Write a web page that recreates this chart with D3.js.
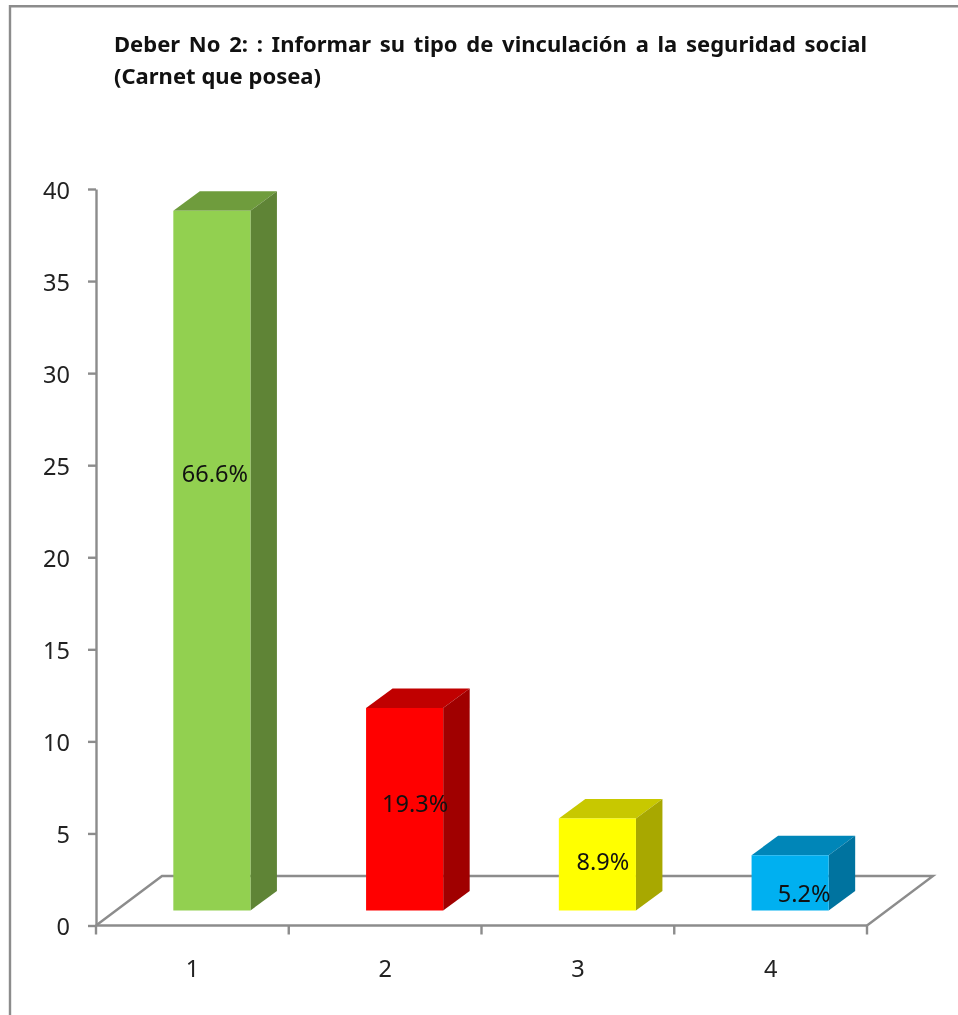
<!DOCTYPE html>
<html><head><meta charset="utf-8"><style>
html,body{margin:0;padding:0;background:#fff}
svg{display:block;filter:blur(.45px)}
text{font-family:"Noto Sans","Open Sans",sans-serif}
</style></head><body>
<svg id="c" width="958" height="1015"></svg>
<script src="https://cdn.jsdelivr.net/npm/d3@7/dist/d3.min.js"></script>
<script>
const categories = ["1","2","3","4"];
const values = [38,11,5,3];
const pctLabels = ["66.6%","19.3%","8.9%","5.2%"];
const yTicks = [0,5,10,15,20,25,30,35,40];
const frontColors = ["#92d050","#ff0000","#ffff00","#00b0f0"];
const topColors = ["#6f9c3d","#c00000","#c8c800","#0086b8"];
const sideColors = ["#5f8436","#a00000","#a8a800","#00739f"];
const titleLines = ["Deber No 2: : Informar su tipo de vinculación a la seguridad social","(Carnet que posea)"];
const labelDx = [3,10.5,5.5,14];
const labelDy = [-78.5,2.7,6,19];

const svg = d3.select("#c");
const grey = "#8c8c8c";
const lw = 2.4;
const x = d3.scaleBand().domain(categories).range([96,867]).paddingInner(0.6).paddingOuter(0.3);
const y = d3.scaleLinear().domain([0,40]).range([925.5,189]);
const step = x.step();

// frame
svg.append("path").attr("d","M10,1015V6.3H958").attr("fill","none").attr("stroke",grey).attr("stroke-width",2.4);

// title: fitted to the reference widths through word spacing
const titleWidths = [753,207];
svg.selectAll("text.t").data(titleLines).join("text").attr("class","t")
  .attr("x",114).attr("y",(d,i)=>[52,84][i]).attr("font-size",22).attr("font-weight",700).attr("fill","#111")
  .text(d=>d)
  .each(function(d,i){
    const gaps = d.split(" ").length-1;
    const w = this.getComputedTextLength();
    d3.select(this).attr("word-spacing",(titleWidths[i]-w)/gaps);
  });

// 3D depth offsets of the floor and of the bars on it
const floorDx = 66, floorDy = -49.5;
const barShiftX = 19.5, barShiftY = -15;
const depthX = 26.5, depthY = -19.5;

// floor
const x0 = x.range()[0], x1 = x.range()[1], y0 = y(0);
svg.append("path")
  .attr("d",`M${x0},${y0}L${x0+floorDx},${y0+floorDy}H${x1+floorDx}L${x1},${y0}`)
  .attr("fill","none").attr("stroke",grey).attr("stroke-width",lw);

// axes
const yAxis = d3.axisLeft(y).tickValues(yTicks).tickSize(8).tickPadding(18).tickSizeOuter(0);
const gy = svg.append("g").attr("transform",`translate(${x0},0)`).call(yAxis);
const xTickPositions = d3.range(categories.length+1).map(i=>x0+i*step);
svg.append("path").attr("d",`M${x0},${y0}H${x1}`).attr("stroke",grey).attr("stroke-width",lw);
svg.selectAll("line.xt").data(xTickPositions).join("line").attr("class","xt")
  .attr("x1",d=>d).attr("x2",d=>d).attr("y1",y0).attr("y2",y0+9).attr("stroke",grey).attr("stroke-width",lw);
gy.selectAll(".domain,line").attr("stroke",grey).attr("stroke-width",lw);
gy.selectAll("text").attr("font-size",23.5).attr("fill","#222").attr("dy","0.39em");
svg.selectAll("text.xl").data(categories).join("text").attr("class","xl")
  .attr("x",d=>x(d)+x.bandwidth()/2).attr("y",976.5).attr("text-anchor","middle")
  .attr("font-size",23.5).attr("fill","#222").text(d=>d);

// bars
const data = categories.map((c,i)=>({c,v:values[i],p:pctLabels[i],i}));
const bars = svg.selectAll("g.bar").data(data).join("g").attr("class","bar");
const bl = d=>x(d.c)+barShiftX, br = d=>bl(d)+x.bandwidth();
const by = y0+barShiftY;
const barTop = d=>by-(y0-y(d.v));
bars.append("path").attr("fill",d=>topColors[d.i])
  .attr("d",d=>`M${bl(d)},${barTop(d)}l${depthX},${depthY}H${br(d)+depthX}L${br(d)},${barTop(d)}Z`);
bars.append("path").attr("fill",d=>sideColors[d.i])
  .attr("d",d=>`M${br(d)},${barTop(d)}l${depthX},${depthY}V${by+depthY}L${br(d)},${by}Z`);
bars.append("rect").attr("fill",d=>frontColors[d.i])
  .attr("x",bl).attr("y",barTop).attr("width",x.bandwidth()).attr("height",d=>by-barTop(d));

bars.append("text").attr("text-anchor","middle").attr("font-size",23.5).attr("fill","#111")
  .attr("x",d=>bl(d)+x.bandwidth()/2+labelDx[d.i])
  .attr("y",d=>(barTop(d)+by)/2+labelDy[d.i])
  .text(d=>d.p);
</script>
</body></html>
